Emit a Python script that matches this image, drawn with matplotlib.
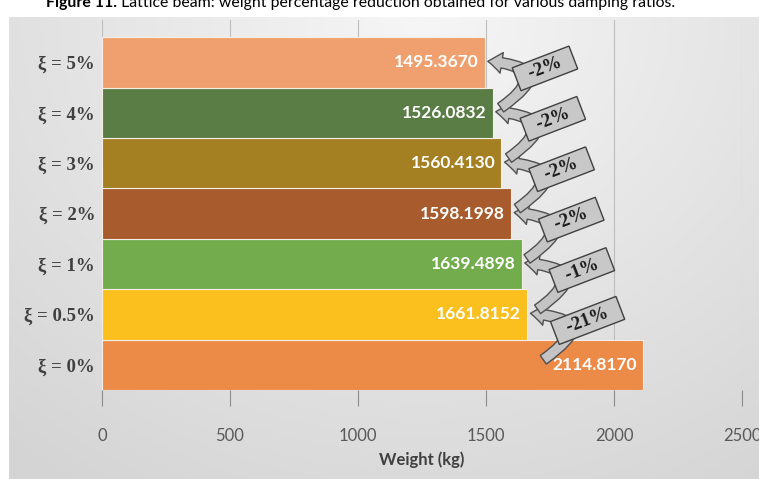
import numpy as np
import matplotlib.pyplot as plt
from matplotlib.patches import FancyArrowPatch

# Weight for each damping ratio, bottom bar first
labels = ['ξ = 0%', 'ξ = 0.5%', 'ξ = 1%', 'ξ = 2%', 'ξ = 3%', 'ξ = 4%', 'ξ = 5%']
weights = [2114.8170, 1661.8152, 1639.4898, 1598.1998, 1560.4130, 1526.0832, 1495.3670]
colors = ['#EC8A48', '#FBC01E', '#72AC4D', '#A85B2C', '#A48023', '#5A7D45', '#F0A06E']
# Reduction from one ratio to the next one up
reductions = ['-21%', '-1%', '-2%', '-2%', '-2%', '-2%']
xticks = [0, 500, 1000, 1500, 2000, 2500]

W, H = 759, 479
fig = plt.figure(figsize=(W / 100, H / 100), dpi=100)
fig.patch.set_facecolor('white')

# Chart area background with a soft radial gradient
bg = fig.add_axes([9 / W, 0, 1 - 9 / W, 1 - 17 / H], zorder=-5)
gx, gy = np.meshgrid(np.linspace(0, 1, 300), np.linspace(0, 1, 200))
d = np.sqrt(((gx - 0.55) / 0.7) ** 2 + ((gy - 0.0) / 1.0) ** 2)
shade = 0.965 - 0.13 * np.clip(d, 0, 1.2) / 1.2
bg.imshow(np.dstack([shade] * 3), aspect='auto', extent=[0, 1, 1, 0])
bg.set_axis_off()

ax = fig.add_axes([102 / W, 1 - 390 / H, (742 - 102) / W, (390 - 20) / H])
ax.patch.set_alpha(0)

y = np.arange(len(labels))
ax.barh(y, weights, height=1.0, color=colors, edgecolor='#F4EEE6', linewidth=0.8, zorder=2)

for yi, w in zip(y, weights):
    ax.text(w - 24, yi, f'{w:.4f}', ha='right', va='center', color='white',
            fontsize=12.5, fontweight='bold', family='Lato', zorder=5)

# Curved arrows with the reduction boxes
for i, r in enumerate(reductions):
    top = weights[i + 1]
    arr = FancyArrowPatch((top + 62, i + 0.1), (top + 12, i + 1.02),
                          connectionstyle='arc3,rad=1.4',
                          arrowstyle='simple,head_width=1.5,head_length=1.0,tail_width=0.75',
                          mutation_scale=10, facecolor='#C4C4C4', edgecolor='#505050',
                          linewidth=1.0, shrinkA=0, shrinkB=0, zorder=6, clip_on=False)
    ax.add_patch(arr)
    ax.text(top + 235, i + 0.88, f'  {r}  ', ha='center', va='center', rotation=21,
            fontsize=13.5, fontweight='bold', family='Liberation Serif', color='#1A1A1A',
            zorder=7,
            bbox=dict(boxstyle='square,pad=0.2', facecolor='#C8C8C8',
                      edgecolor='#404040', linewidth=1.0))

ax.set_xlim(0, 2500)
ax.set_ylim(-0.5, 6.84)
ax.set_xticks(xticks)
ax.set_xticklabels([str(t) for t in xticks], fontsize=12, family='Lato', color='#595959')
ax.set_yticks(y)
ax.set_yticklabels(labels, fontsize=13.5, fontweight='bold', family='Liberation Serif',
                   color='#404040')
ax.tick_params(axis='y', length=0, pad=5)
ax.tick_params(axis='x', length=11.5, width=0.8, color='#8C8C8C', pad=16)
ax.grid(axis='x', color='#BDBDBD', linewidth=0.8, zorder=0)
ax.set_axisbelow(True)
for s in ax.spines.values():
    s.set_visible(False)
ax.set_xlabel('Weight (kg)', fontsize=12, fontweight='bold', family='Lato',
              color='#404040', labelpad=5)

# Caption above the chart, cut by the top edge
t1 = fig.text(46 / W, 1 - 10 / H, 'Figure 11.', fontsize=11.4, fontweight='bold',
              family='Lato', va='bottom', ha='left')
fig.add_artist(plt.Annotation(' Lattice beam: weight percentage reduction obtained for various damping ratios.',
                              xy=(1, 0), xycoords=t1, fontsize=11.4, family='Lato',
                              va='bottom', ha='left'))

fig.savefig('out.png', dpi=100)
